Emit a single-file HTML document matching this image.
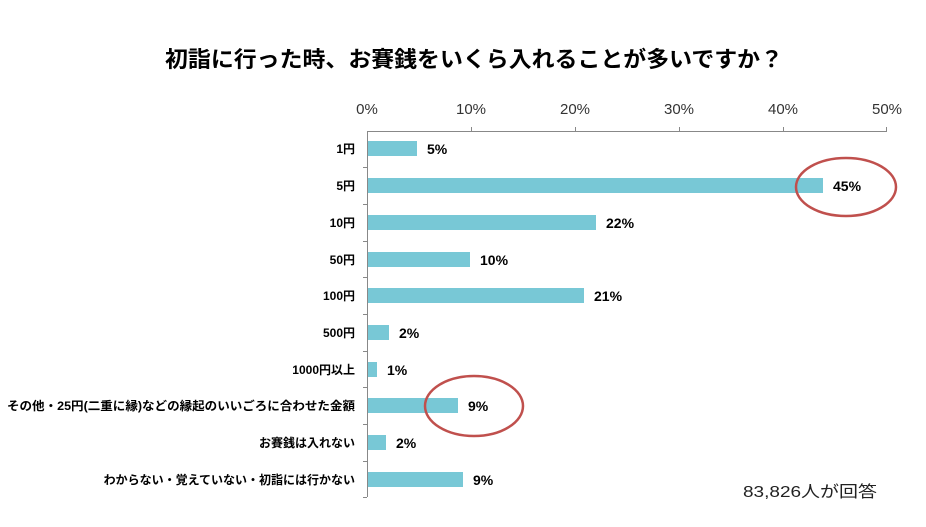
<!DOCTYPE html>
<html><head><meta charset="utf-8"><style>
body{margin:0;background:#fff;width:926px;height:522px;overflow:hidden}
text{font-family:"Liberation Sans","Noto Sans CJK JP",sans-serif}
</style></head><body>
<svg width="926" height="522" xmlns="http://www.w3.org/2000/svg">
<text x="165" y="67" font-size="22" font-weight="bold" fill="#000" textLength="618" lengthAdjust="spacingAndGlyphs">初詣に行った時、お賽銭をいくら入れることが多いですか？</text>
<g font-size="15" fill="#333" text-anchor="middle">
<text x="367" y="114">0%</text><text x="471" y="114">10%</text><text x="575" y="114">20%</text>
<text x="679" y="114">30%</text><text x="783" y="114">40%</text><text x="887" y="114">50%</text>
</g>
<g stroke="#888" stroke-width="1">
<line x1="367" y1="131.5" x2="887" y2="131.5"/>
<line x1="367.5" y1="131" x2="367.5" y2="497"/>
<line x1="471.5" y1="127" x2="471.5" y2="131"/><line x1="575.5" y1="127" x2="575.5" y2="131"/>
<line x1="679.5" y1="127" x2="679.5" y2="131"/><line x1="783.5" y1="127" x2="783.5" y2="131"/>
<line x1="886.5" y1="127" x2="886.5" y2="131"/>
<line x1="363" y1="167.5" x2="367" y2="167.5"/><line x1="363" y1="204.5" x2="367" y2="204.5"/>
<line x1="363" y1="241.5" x2="367" y2="241.5"/><line x1="363" y1="277.5" x2="367" y2="277.5"/>
<line x1="363" y1="314.5" x2="367" y2="314.5"/><line x1="363" y1="351.5" x2="367" y2="351.5"/>
<line x1="363" y1="387.5" x2="367" y2="387.5"/><line x1="363" y1="424.5" x2="367" y2="424.5"/>
<line x1="363" y1="461.5" x2="367" y2="461.5"/><line x1="363" y1="497.5" x2="367" y2="497.5"/>
</g>
<g fill="#78c8d6">
<rect x="368" y="141" width="49" height="15"/>
<rect x="368" y="178" width="455" height="15"/>
<rect x="368" y="215" width="228" height="15"/>
<rect x="368" y="252" width="102" height="15"/>
<rect x="368" y="288" width="216" height="15"/>
<rect x="368" y="325" width="21" height="15"/>
<rect x="368" y="362" width="9" height="15"/>
<rect x="368" y="398" width="90" height="15"/>
<rect x="368" y="435" width="18" height="15"/>
<rect x="368" y="472" width="95" height="15"/>
</g>
<g font-size="14" font-weight="bold" fill="#000">
<text x="427" y="154">5%</text><text x="833" y="191">45%</text><text x="606" y="228">22%</text>
<text x="480" y="265">10%</text><text x="594" y="301">21%</text><text x="399" y="338">2%</text>
<text x="387" y="375">1%</text><text x="468" y="411">9%</text><text x="396" y="448">2%</text>
<text x="473" y="485">9%</text>
</g>
<g font-size="12" font-weight="bold" fill="#000" text-anchor="end">
<text x="355" y="153">1円</text><text x="355" y="190">5円</text><text x="355" y="227">10円</text>
<text x="355" y="264">50円</text><text x="355" y="300">100円</text><text x="355" y="337">500円</text>
<text x="355" y="374">1000円以上</text>
<text x="355" y="410" textLength="348" lengthAdjust="spacingAndGlyphs">その他・25円(二重に縁)などの縁起のいいごろに合わせた金額</text>
<text x="355" y="447">お賽銭は入れない</text>
<text x="355" y="484">わからない・覚えていない・初詣には行かない</text>
</g>
<ellipse cx="846" cy="187" rx="50" ry="29" fill="none" stroke="#c0504d" stroke-width="2.5"/>
<ellipse cx="474" cy="406" rx="49" ry="30" fill="none" stroke="#c0504d" stroke-width="2.5"/>
<text x="743" y="497" font-size="16" fill="#222" textLength="134" lengthAdjust="spacingAndGlyphs">83,826人が回答</text>
</svg>
</body></html>
